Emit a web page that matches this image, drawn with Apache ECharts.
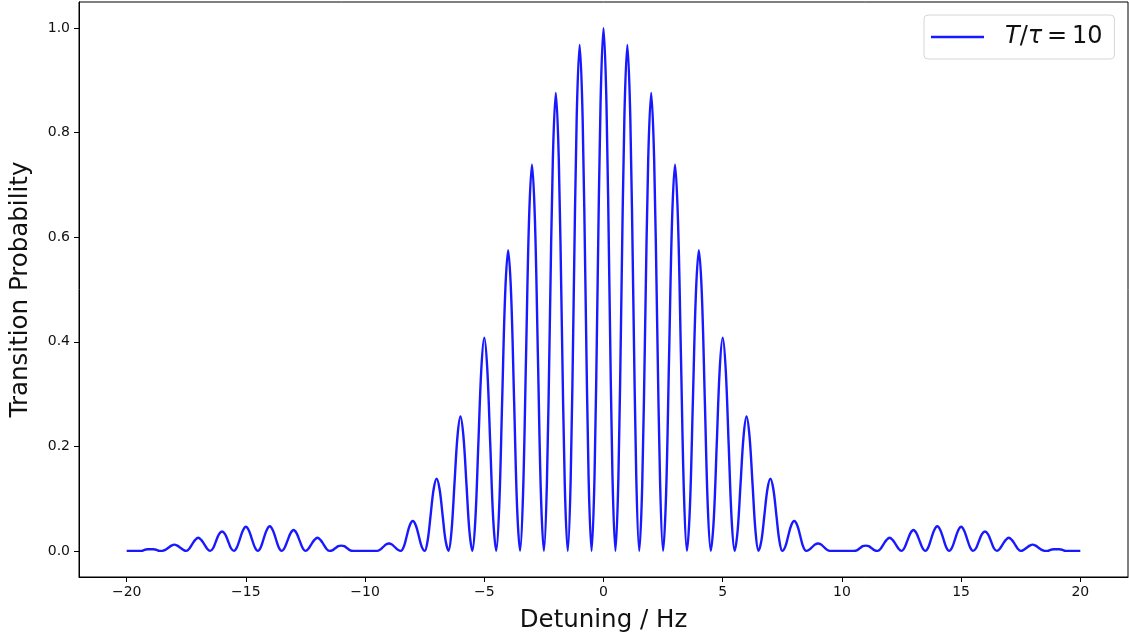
<!DOCTYPE html>
<html>
<head>
<meta charset="utf-8">
<script src="https://cdn.jsdelivr.net/npm/echarts@6/dist/echarts.min.js"></script>
<style>
html,body{margin:0;padding:0;background:#fff;}
#chart{width:1129px;height:639px;}
</style>
</head>
<body>
<div id="chart"></div>
<script>
// Sample grid: detuning from -20 Hz to 20 Hz, step 0.125 Hz
const detuningStart = -20;
const detuningStep = 0.125;

// Transition probability (one row per Hz, 8 samples per row)
const probability = [
  0.000,0.000,0.000,0.000,0,0.000,0.002,0.003,   // -20
  0.003,0.003,0.002,0.000,0,0.002,0.006,0.010,   // -19
  0.012,0.010,0.006,0.002,0,0.004,0.013,0.021,   // -18
  0.025,0.021,0.013,0.004,0,0.005,0.019,0.032,   // -17
  0.037,0.032,0.019,0.005,0,0.007,0.023,0.039,   // -16
  0.046,0.039,0.023,0.007,0,0.007,0.024,0.040,   // -15
  0.047,0.040,0.024,0.007,0,0.006,0.020,0.034,   // -14
  0.040,0.034,0.020,0.006,0,0.004,0.013,0.021,   // -13
  0.025,0.021,0.013,0.004,0,0.001,0.005,0.009,   // -12
  0.010,0.009,0.005,0.001,0,0.000,0.000,0.000,   // -11
  0.000,0.000,0.000,0.000,0,0.002,0.007,0.012,   // -10
  0.014,0.012,0.007,0.002,0,0.008,0.029,0.049,   // -9
  0.057,0.049,0.029,0.008,0,0.020,0.069,0.118,   // -8
  0.138,0.118,0.069,0.020,0,0.038,0.129,0.219,   // -7
  0.257,0.219,0.129,0.038,0,0.060,0.204,0.348,   // -6
  0.408,0.348,0.204,0.060,0,0.084,0.288,0.491,   // -5
  0.575,0.491,0.288,0.084,0,0.108,0.370,0.631,   // -4
  0.739,0.631,0.370,0.108,0,0.128,0.438,0.748,   // -3
  0.876,0.748,0.438,0.128,0,0.141,0.484,0.827,   // -2
  0.968,0.827,0.484,0.141,0,0.146,0.500,0.854,   // -1
  1.000,0.854,0.500,0.146,0,0.141,0.484,0.827,   // 0
  0.968,0.827,0.484,0.141,0,0.128,0.438,0.748,   // 1
  0.876,0.748,0.438,0.128,0,0.108,0.370,0.631,   // 2
  0.739,0.631,0.370,0.108,0,0.084,0.288,0.491,   // 3
  0.575,0.491,0.288,0.084,0,0.060,0.204,0.348,   // 4
  0.408,0.348,0.204,0.060,0,0.038,0.129,0.219,   // 5
  0.257,0.219,0.129,0.038,0,0.020,0.069,0.118,   // 6
  0.138,0.118,0.069,0.020,0,0.008,0.029,0.049,   // 7
  0.057,0.049,0.029,0.008,0,0.002,0.007,0.012,   // 8
  0.014,0.012,0.007,0.002,0,0.000,0.000,0.000,   // 9
  0.000,0.000,0.000,0.000,0,0.001,0.005,0.009,   // 10
  0.010,0.009,0.005,0.001,0,0.004,0.013,0.021,   // 11
  0.025,0.021,0.013,0.004,0,0.006,0.020,0.034,   // 12
  0.040,0.034,0.020,0.006,0,0.007,0.024,0.040,   // 13
  0.047,0.040,0.024,0.007,0,0.007,0.023,0.039,   // 14
  0.046,0.039,0.023,0.007,0,0.005,0.019,0.032,   // 15
  0.037,0.032,0.019,0.005,0,0.004,0.013,0.021,   // 16
  0.025,0.021,0.013,0.004,0,0.002,0.006,0.010,   // 17
  0.012,0.010,0.006,0.002,0,0.000,0.002,0.003,   // 18
  0.003,0.003,0.002,0.000,0,0.000,0.000,0.000,   // 19
  0.000                                          // 20
];

const xTicks = [-20, -15, -10, -5, 0, 5, 10, 15, 20];
const yTicks = [0.0, 0.2, 0.4, 0.6, 0.8, 1.0];
const seriesName = 'T/τ = 10';
const xLabel = 'Detuning / Hz';
const yLabel = 'Transition Probability';

const seriesData = probability.map((p, i) => [detuningStart + i * detuningStep, p]);

const font = 'DejaVu Sans';
const chart = echarts.init(document.getElementById('chart'), null, {renderer: 'canvas'});
chart.setOption({
  animation: false,
  backgroundColor: '#ffffff',
  grid: {
    left: 79, right: 1, top: 2, bottom: 62,
    show: true, borderColor: '#000', borderWidth: 1, backgroundColor: 'transparent'
  },
  legend: {
    show: true,
    left: 924, top: 15,
    padding: [10, 12, 10, 7],
    itemWidth: 53, itemHeight: 14,
    backgroundColor: 'rgba(255,255,255,0.8)',
    borderColor: '#d6d6d6', borderWidth: 1, borderRadius: 4,
    formatter: () => '{i|T}{n|/}{i|τ}{n|\u2009=\u200910}',
    textStyle: {
      fontFamily: font, fontSize: 24, color: '#111',
      padding: [0, 0, 0, 16],
      rich: {
        i: {fontFamily: font, fontSize: 24, fontStyle: 'italic', color: '#111'},
        n: {fontFamily: font, fontSize: 24, color: '#111'}
      }
    },
    data: [{name: seriesName, icon: 'path://M0,0 L53,0 L53,2.6 L0,2.6 Z'}]
  },
  xAxis: {
    type: 'value', min: -22, max: 22,
    name: xLabel, nameLocation: 'middle', nameGap: 31,
    nameTextStyle: {fontFamily: font, fontSize: 24.5, color: '#111'},
    axisLine: {show: true, onZero: false, lineStyle: {color: '#000', width: 1}},
    axisTick: {show: true, inside: false, length: 5, customValues: xTicks, lineStyle: {color: '#000'}},
    axisLabel: {
      show: true, margin: 8, customValues: xTicks,
      fontFamily: font, fontSize: 14, color: '#111',
      formatter: v => (v < 0 ? '\u2212' + Math.abs(v) : String(v))
    },
    splitLine: {show: false}
  },
  yAxis: {
    type: 'value', min: -0.05, max: 1.05,
    name: yLabel, nameLocation: 'middle', nameGap: 46, nameRotate: 90,
    nameTextStyle: {fontFamily: font, fontSize: 24.5, color: '#111'},
    axisLine: {show: true, onZero: false, lineStyle: {color: '#000', width: 1}},
    axisTick: {show: true, inside: false, length: 5, customValues: yTicks, lineStyle: {color: '#000'}},
    axisLabel: {
      show: true, margin: 9, customValues: yTicks,
      fontFamily: font, fontSize: 14, color: '#111',
      formatter: v => v.toFixed(1)
    },
    splitLine: {show: false}
  },
  series: [{
    name: seriesName,
    type: 'line',
    data: seriesData,
    symbol: 'none',
    smooth: 0.35,
    lineStyle: {color: '#0000ff', width: 2.4, opacity: 0.9},
    itemStyle: {color: '#0000ff', opacity: 0.9}
  }]
});
</script>
</body>
</html>
